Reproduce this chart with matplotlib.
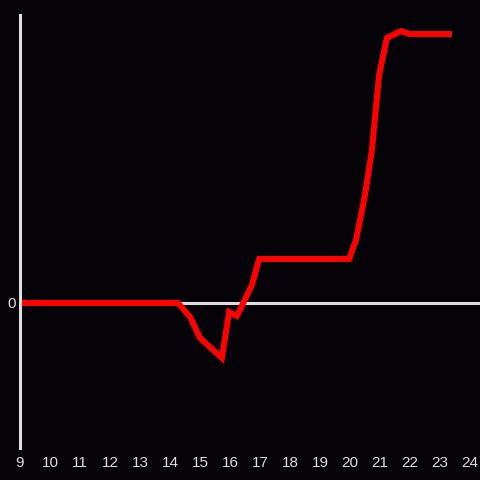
import matplotlib
matplotlib.use("Agg")
import matplotlib.pyplot as plt

hours = [9.0, 14.27, 14.67, 15.0, 15.73, 15.97, 16.23, 16.73, 16.97, 19.97,
         20.2, 20.5, 20.73, 20.97, 21.23, 21.7, 21.97, 23.3]
values = [0, 0, -14, -35, -55, -9, -13, 18, 44, 44,
          63, 108, 153, 228, 265, 272, 269, 269]
xticks = list(range(9, 25))
yticks = [0]

bg = "#050308"
fg = "#dddddd"

fig = plt.figure(figsize=(4.8, 4.8), dpi=100, facecolor=bg)
ax = fig.add_axes([20/480, 32/480, 460/480, 433/480], facecolor=bg)
ax.axhline(0, color=fg, lw=2.2, zorder=1)
ax.plot(hours, values, color="#ff0000", lw=4.3, zorder=2, solid_joinstyle="miter")
ax.set_xlim(9, 9 + 460/30)
ax.set_ylim(-145, 288)
ax.set_xticks(xticks)
ax.set_xticklabels([str(t) for t in xticks])
ax.set_yticks(yticks)
ax.set_yticklabels(["0"])
for s in ["top", "right", "bottom"]:
    ax.spines[s].set_visible(False)
ax.spines["left"].set_color(fg)
ax.spines["left"].set_linewidth(2.2)
ax.tick_params(length=0, colors=fg, labelsize=11, pad=6)
ax.tick_params(axis="y", pad=3)
for lab in ax.get_xticklabels() + ax.get_yticklabels():
    lab.set_fontfamily("Liberation Sans")
fig.savefig("out.png", dpi=100, facecolor=bg)
